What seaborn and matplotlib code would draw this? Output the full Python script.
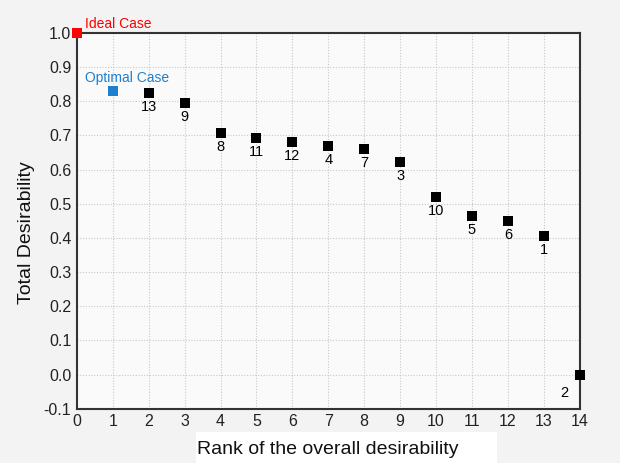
import matplotlib
matplotlib.use("Agg")
import matplotlib.pyplot as plt
from matplotlib.patches import Rectangle
import seaborn as sns
import pandas as pd

sns.set_theme(style="white")
plt.rcParams['font.family'] = ['Liberation Sans', 'DejaVu Sans']

# Data
ranks = [2, 3, 4, 5, 6, 7, 8, 9, 10, 11, 12, 13, 14]
desirability = [0.825, 0.795, 0.707, 0.693, 0.680, 0.670, 0.659, 0.623, 0.520, 0.463, 0.450, 0.405, 0.0]
alt_labels = ["13", "9", "8", "11", "12", "4", "7", "3", "10", "5", "6", "1", "2"]
ideal_rank, ideal_value = 0, 1.0
optimal_rank, optimal_value = 1, 0.83
xticks = list(range(0, 15))
yticks = [-0.1, 0.0, 0.1, 0.2, 0.3, 0.4, 0.5, 0.6, 0.7, 0.8, 0.9, 1.0]

df = pd.DataFrame({"rank": ranks, "value": desirability, "label": alt_labels})

W, H = 620, 463
fig = plt.figure(figsize=(6.2, 4.63), dpi=100, facecolor="#f3f3f3")
# white band behind the x-axis title
fig.patches.append(Rectangle((196 / W, 0), (497 - 196) / W, (463 - 432) / H,
                             transform=fig.transFigure, facecolor="white",
                             edgecolor="none", zorder=-1))
ax = fig.add_axes([0.124, 0.117, 0.811, 0.812])
ax.set_facecolor("#fafafa")

sns.scatterplot(data=df, x="rank", y="value", marker="s", s=55, color="black",
                edgecolor="black", linewidth=0, ax=ax, zorder=5, clip_on=False)
sns.scatterplot(x=[ideal_rank], y=[ideal_value], marker="s", s=55, color="#ff0000",
                linewidth=0, ax=ax, zorder=6, clip_on=False)
sns.scatterplot(x=[optimal_rank], y=[optimal_value], marker="s", s=55, color="#1f7fcc",
                linewidth=0, ax=ax, zorder=6, clip_on=False)

for r, v, lab in zip(ranks, desirability, alt_labels):
    if r == 14:
        ax.annotate(lab, (r, v), xytext=(-11, -8), textcoords="offset points",
                    ha="center", va="top", fontsize=10.5, color="black")
    else:
        ax.annotate(lab, (r, v), xytext=(0, -5), textcoords="offset points",
                    ha="center", va="top", fontsize=10.5, color="black")

ax.annotate("Ideal Case", (ideal_rank, ideal_value), xytext=(6, 1.5), textcoords="offset points",
            ha="left", va="bottom", fontsize=10, color="#ff0000")
ax.annotate("Optimal Case", (optimal_rank, optimal_value), xytext=(-20, 4), textcoords="offset points",
            ha="left", va="bottom", fontsize=10, color="#1f7fcc")

ax.set_xlim(0, 14)
ax.set_ylim(-0.1, 1.0)
ax.set_xticks(xticks)
ax.set_yticks(yticks)
ax.set_xticklabels([str(t) for t in xticks], fontsize=11.5, color="#222222")
ax.set_yticklabels([f"{t:.1f}" for t in yticks], fontsize=11.5, color="#222222")
ax.tick_params(axis="both", length=0, pad=4)
ax.grid(True, linestyle=(0, (1, 1.5)), color="#c8c8c8", linewidth=0.8)
ax.set_axisbelow(True)
for s in ax.spines.values():
    s.set_color("#333333")
    s.set_linewidth(1.5)
    s.set_visible(True)

ax.set_xlabel("Rank of the overall desirability", fontsize=14, color="#111111")
ax.xaxis.set_label_coords((327.5 - 77) / (580 - 77), -(450 - 409) / (409 - 33), transform=ax.transAxes)
ax.xaxis.label.set_va("center")
ax.set_ylabel("Total Desirability", fontsize=14, color="#111111")
ax.yaxis.set_label_coords(-(77 - 27) / (580 - 77), (409 - 233) / (409 - 33), transform=ax.transAxes)
ax.yaxis.label.set_va("center")

fig.savefig("out.png", dpi=100, facecolor=fig.get_facecolor())
